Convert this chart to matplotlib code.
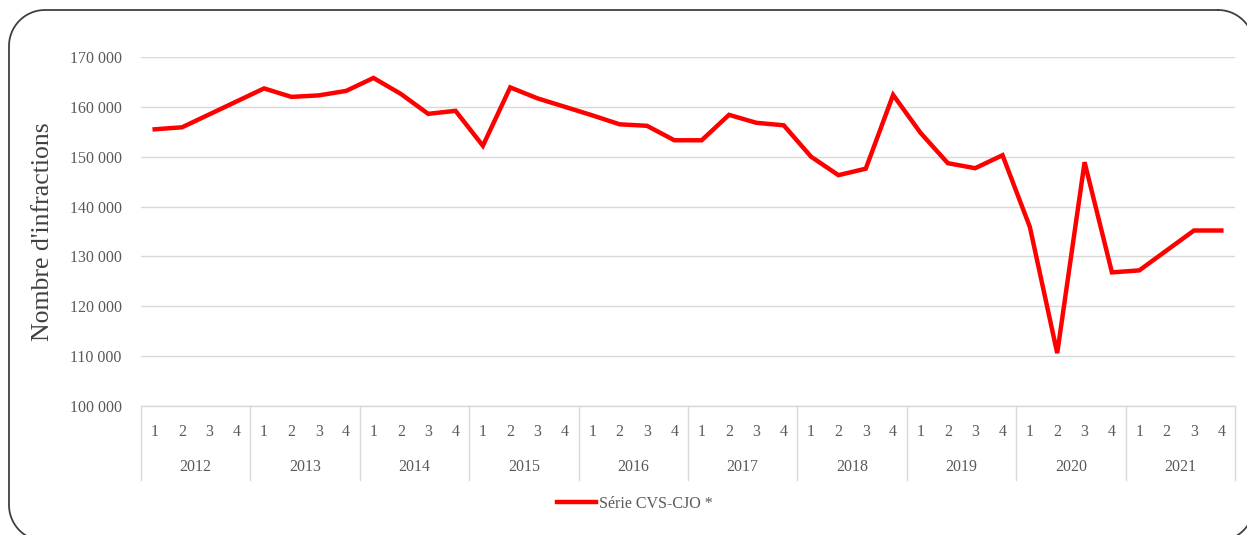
import matplotlib
matplotlib.use("Agg")
import numpy as np
import matplotlib.pyplot as plt
from matplotlib.lines import Line2D

years = ["2012", "2013", "2014", "2015", "2016", "2017", "2018", "2019", "2020", "2021"]
quarters = ["1", "2", "3", "4"]
serie_cvs_cjo = [
    155500, 155900, 158500, 161100,
    163700, 162000, 162300, 163200,
    165800, 162600, 158600, 159200,
    152200, 163900, 161700, 160000,
    158300, 156500, 156200, 153300,
    153300, 158400, 156800, 156300,
    150000, 146300, 147600, 162400,
    154800, 148700, 147700, 150300,
    135900, 110600, 148900, 126800,
    127200, 131200, 135200, 135200,
]
series_label = "Série CVS-CJO *"
y_label = "Nombre d'infractions"
y_ticks = [100000, 110000, 120000, 130000, 140000, 150000, 160000, 170000]

W, H = 1247, 535
fig = plt.figure(figsize=(W / 100, H / 100), dpi=100)
plt.rcParams['font.family'] = ['Liberation Serif', 'DejaVu Serif']
txt_col = '#595959'
grid_col = '#d9d9d9'


def rounded_rect_xy(left, top, right, bottom, r, nseg=24):
    """Polyline of a rounded rectangle, pixel coords from top-left."""
    xs, ys = [], []
    corners = [
        (right - r, top + r, -90, 0),      # top-right
        (right - r, bottom - r, 0, 90),    # bottom-right
        (left + r, bottom - r, 90, 180),   # bottom-left
        (left + r, top + r, 180, 270),     # top-left
    ]
    for cx, cy, a0, a1 in corners:
        t = np.radians(np.linspace(a0, a1, nseg))
        xs.extend(cx + r * np.cos(t))
        ys.extend(cy + r * np.sin(t))
    xs.append(xs[0])
    ys.append(ys[0])
    return np.array(xs) / W, 1 - np.array(ys) / H


fx, fy = rounded_rect_xy(9, 10, 1254, 541, 36)
fig.add_artist(Line2D(fx, fy, transform=fig.transFigure, color='#404040',
                      linewidth=1.3, solid_joinstyle='round'))

x0, x1 = 141, 1235
ytop, ybot = 57, 406
ax = fig.add_axes([x0 / W, (H - ybot) / H, (x1 - x0) / W, (ybot - ytop) / H])
n = len(serie_cvs_cjo)
xs = list(range(n))
ax.plot(xs, serie_cvs_cjo, color='#ff0000', linewidth=3.2, solid_joinstyle='miter',
        zorder=3, clip_on=False)
ax.set_xlim(-0.5, n - 0.5)
ax.set_ylim(100000, 170000)
ax.set_yticks(y_ticks)
ax.set_yticklabels([f"{v:,}".replace(",", " ") for v in y_ticks])
ax.yaxis.grid(True, color=grid_col, linewidth=1.0)
ax.set_axisbelow(True)
for s in ['left', 'right', 'top']:
    ax.spines[s].set_visible(False)
ax.spines['bottom'].set_color(grid_col)
ax.spines['bottom'].set_linewidth(1.0)
ax.tick_params(axis='y', length=0, pad=14, labelsize=11.5, labelcolor=txt_col)

ax.set_xticks(xs)
ax.set_xticklabels([q for _ in years for q in quarters])
ax.tick_params(axis='x', length=0, pad=13, labelsize=11.5, labelcolor=txt_col)

axh = ybot - ytop
tr = ax.get_xaxis_transform()
sep_depth = (480 - ybot) / axh
for k in range(len(years) + 1):
    xb = -0.5 + 4 * k
    ax.plot([xb, xb], [0, -sep_depth], transform=tr, color=grid_col,
            linewidth=1.0, clip_on=False)
for k, yr in enumerate(years):
    ax.text(1.5 + 4 * k, -(467 - ybot) / axh, yr, transform=tr, ha='center',
            va='center', fontsize=11.5, color=txt_col)

fig.text(43 / W, 1 - 232 / H, y_label, rotation=90, ha='center', va='center',
         fontsize=18.5, color='#404040')

handle = Line2D([], [], color='#ff0000', linewidth=3.2)
fig.legend([handle], [series_label], loc='center', bbox_to_anchor=(635 / W, (H - 504) / H),
           frameon=False, fontsize=11.5, handlelength=2.4, handletextpad=0.2,
           labelcolor=txt_col)

fig.savefig("out.png", dpi=100)
